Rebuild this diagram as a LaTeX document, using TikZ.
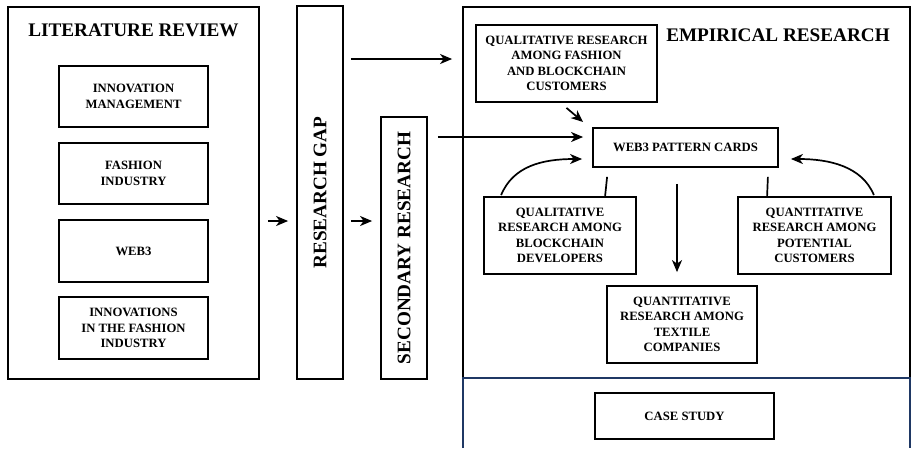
\documentclass[tikz,border=0pt]{standalone}
\usepackage{fontspec}
\setmainfont{Liberation Serif}
\usetikzlibrary{arrows.meta,calc}
\definecolor{navy}{RGB}{31,56,100}
\begin{document}
\begin{tikzpicture}[x=1pt,y=-1pt,
  box/.style={draw=black,line width=1.8pt,rectangle,inner sep=0pt,align=center,
    font=\fontsize{12.7}{15.3}\selectfont\bfseries},
  bigbox/.style={draw=black,line width=1.8pt,rectangle,inner sep=0pt},
  title/.style={font=\fontsize{19.2}{22}\selectfont\bfseries,inner sep=0pt},
  arr/.style={line width=1.7pt,-{Stealth[length=12pt,width=10pt,inset=3.5pt]}},
  ln/.style={line width=1.7pt}]
\useasboundingbox (0,0) rectangle (911,448);
\fill[white] (0,0) rectangle (911,448);

% literature review
\node[bigbox,minimum width=251pt,minimum height=372pt] (lit) at (133.5,193) {};
\node[title] (littitle) at (133.5,30) {LITERATURE REVIEW};
\node[box,minimum width=149pt,minimum height=61pt] (b1) at (133.5,96.5) {INNOVATION\\MANAGEMENT};
\node[box,minimum width=149pt,minimum height=61pt] (b2) at (133.5,173.5) {FASHION\\INDUSTRY};
\node[box,minimum width=149pt,minimum height=62pt] (b3) at (133.5,251) {WEB3};
\node[box,minimum width=149pt,minimum height=62pt] (b4) at (133.5,328) {INNOVATIONS\\IN THE FASHION\\INDUSTRY};

% research gap
\node[bigbox,minimum width=46pt,minimum height=373pt] (gap) at (320,192.5) {};
\node[title,rotate=90] (gaptext) at (gap.center) {RESEARCH GAP};

% secondary research
\node[bigbox,minimum width=46pt,minimum height=262pt] (sec) at (404,248) {};
\node[title,rotate=90] (sectext) at (sec.center) {SECONDARY RESEARCH};

% empirical research
\node[bigbox,minimum width=447pt,minimum height=371pt] (emp) at (686.5,192.5) {};
\node[title] (emptitle) at (778,35) {EMPIRICAL RESEARCH};
\node[inner sep=0pt,minimum width=447pt,minimum height=70pt] (caseouter) at (686.5,413) {};
\draw[navy,line width=1.8pt] (caseouter.south west) -- (caseouter.north west) -- (caseouter.north east) -- (caseouter.south east);

\node[box,minimum width=181pt,minimum height=77pt] (qf) at (566.5,63.5) {QUALITATIVE RESEARCH\\AMONG FASHION\\AND BLOCKCHAIN\\CUSTOMERS};
\node[box,minimum width=185pt,minimum height=39pt] (w3) at (685.5,147.5) {WEB3 PATTERN CARDS};
\node[box,minimum width=152pt,minimum height=77pt] (qb) at (560,235.5) {QUALITATIVE\\RESEARCH AMONG\\BLOCKCHAIN\\DEVELOPERS};
\node[box,minimum width=153pt,minimum height=77pt] (qp) at (814.5,235.5) {QUANTITATIVE\\RESEARCH AMONG\\POTENTIAL\\CUSTOMERS};
\node[box,minimum width=150pt,minimum height=77pt] (qt) at (682,324.5) {QUANTITATIVE\\RESEARCH AMONG\\TEXTILE\\COMPANIES};
\node[box,line width=2.4pt,minimum width=179pt,minimum height=46pt] (cs) at (684.5,416) {CASE STUDY};

% connectors
\draw[arr] ($(lit.east)+(8,28)$) -- ($(gap.west)+(-8,28.5)$);
\draw[arr] ($(gap.east)+(7,28.5)$) -- ($(sec.west)+(-8,-27)$);
\draw[arr] ($(gap.east)+(7,-133.5)$) -- ($(emp.west)+(-10,-133.5)$);
\draw[arr] ($(sec.east)+(10,-111)$) -- ($(w3.west)+(-9,-10.5)$);
\draw[arr] ($(qf.south)+(0,5)$) -- ($(w3.west)+(-9,-25.5)$);
\draw[arr] ($(qb.north west)+(18,-1)$) .. controls ($(qb.north west)+(30,-30)$) and ($(w3.west)+(-50,11.5)$) .. ($(w3.west)+(-10,11.5)$);
\draw[ln] ($(w3.south west)+(15,9)$) -- ($(qb.north west)+(122,0)$);
\draw[arr] ($(w3.south)+(-8.5,16)$) -- ($(qt.north)+(-5,-13)$);
\draw[ln] ($(w3.south east)+(-11,9)$) -- ($(qp.north west)+(30,0)$);
\draw[arr] ($(qp.north east)+(-18,-1)$) .. controls ($(qp.north east)+(-30,-30)$) and ($(w3.east)+(50,11.5)$) .. ($(w3.east)+(12,11.5)$);
\end{tikzpicture}
\end{document}
